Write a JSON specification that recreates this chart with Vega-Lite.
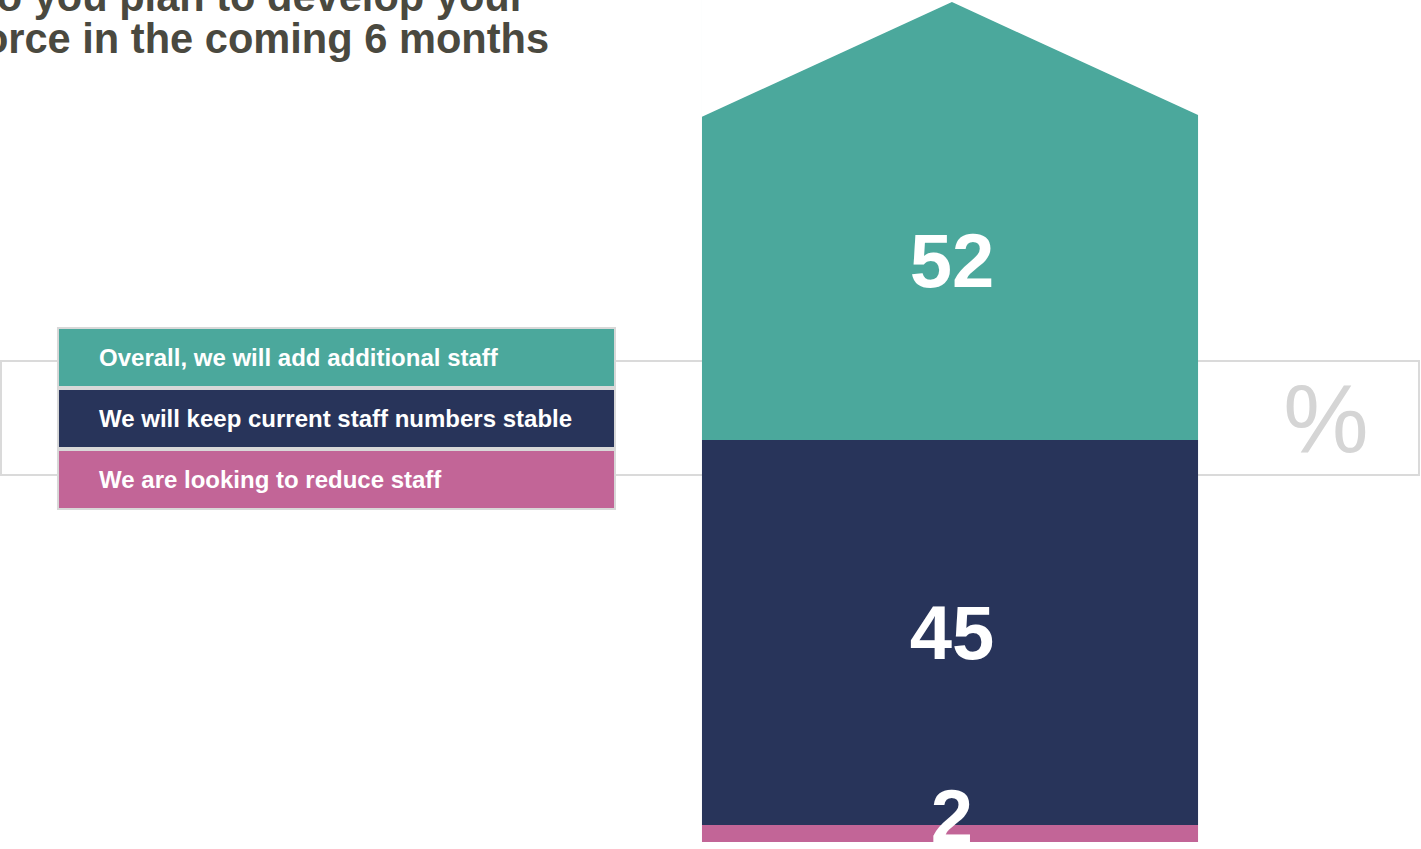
{
  "$schema": "https://vega.github.io/schema/vega-lite/v6.json",
  "width": 1421,
  "height": 842,
  "autosize": {"type": "none"},
  "padding": 0,
  "background": "white",
  "config": {"view": {"stroke": null}},
  "datasets": {
    "plans": [
      {"category": "Overall, we will add additional staff", "value": 52, "order": 3},
      {"category": "We will keep current staff numbers stable", "value": 45, "order": 2},
      {"category": "We are looking to reduce staff", "value": 2, "order": 1}
    ]
  },
  "resolve": {"scale": {"y": "independent"}},
  "layer": [
    {
      "data": {"name": "plans"},
      "transform": [
        {"stack": "value", "groupby": [], "sort": [{"field": "order", "order": "ascending"}], "as": ["v0", "v1"]},
        {"calculate": "(datum.v0 + datum.v1) / 2", "as": "mid"}
      ],
      "layer": [
        {
          "transform": [{"filter": "datum.order == 3"}],
          "mark": {"type": "rect", "fill": "white", "fillOpacity": 0, "stroke": "#dadada", "strokeWidth": 2},
          "encoding": {
            "x": {"datum": 0.07, "type": "quantitative", "scale": {"domain": [0, 100], "nice": false, "zero": false}, "axis": null},
            "x2": {"datum": 99.86},
            "y": {"datum": 56.24, "type": "quantitative", "scale": {"domain": [0, 98.45], "nice": false, "zero": false}, "axis": null},
            "y2": {"datum": 42.91}
          }
        },
        {
          "mark": {"type": "rect"},
          "encoding": {
            "x": {"datum": 49.4, "type": "quantitative", "scale": {"domain": [0, 100], "nice": false, "zero": false}, "axis": null},
            "x2": {"datum": 84.31},
            "y": {"field": "v0", "type": "quantitative", "scale": {"domain": [0, 98.45], "nice": false, "zero": false}, "axis": null},
            "y2": {"field": "v1"},
            "color": {
              "field": "category",
              "type": "nominal",
              "scale": {
                "domain": ["Overall, we will add additional staff", "We will keep current staff numbers stable", "We are looking to reduce staff"],
                "range": ["#4BA89C", "#28345A", "#C26597"]
              },
              "legend": null
            }
          }
        },
        {
          "transform": [{"filter": "datum.order == 3"}],
          "mark": {
            "type": "point",
            "filled": true,
            "fill": "white",
            "opacity": 1,
            "strokeWidth": 0,
            "shape": "M-1.01,0.004L-1.01,-0.62L1.01,-0.62L1.01,0.004L0,-0.4597Z",
            "size": 246016
          },
          "encoding": {
            "x": {"datum": 66.99, "type": "quantitative", "scale": {"domain": [0, 100], "nice": false, "zero": false}, "axis": null},
            "y": {"datum": 84.88, "type": "quantitative", "scale": {"domain": [0, 98.45], "nice": false, "zero": false}, "axis": null}
          }
        },
        {
          "transform": [{"filter": "datum.order == 3"}],
          "mark": {"type": "text", "align": "center", "baseline": "alphabetic", "dy": 69.4, "font": "Liberation Sans", "fontWeight": "bold", "fontSize": 76, "fill": "white"},
          "encoding": {
            "x": {"datum": 66.99, "type": "quantitative", "scale": {"domain": [0, 100], "nice": false, "zero": false}, "axis": null},
            "y": {"field": "mid", "type": "quantitative", "scale": {"domain": [0, 98.45], "nice": false, "zero": false}, "axis": null},
            "text": {"field": "value", "type": "quantitative"}
          }
        },
        {
          "transform": [{"filter": "datum.order == 2"}],
          "mark": {"type": "text", "align": "center", "baseline": "alphabetic", "dy": 26.5, "font": "Liberation Sans", "fontWeight": "bold", "fontSize": 76, "fill": "white"},
          "encoding": {
            "x": {"datum": 66.99, "type": "quantitative", "scale": {"domain": [0, 100], "nice": false, "zero": false}, "axis": null},
            "y": {"field": "mid", "type": "quantitative", "scale": {"domain": [0, 98.45], "nice": false, "zero": false}, "axis": null},
            "text": {"field": "value", "type": "quantitative"}
          }
        },
        {
          "transform": [{"filter": "datum.order == 1"}],
          "mark": {"type": "text", "align": "center", "baseline": "alphabetic", "dy": 9.6, "font": "Liberation Sans", "fontWeight": "bold", "fontSize": 76, "fill": "white"},
          "encoding": {
            "x": {"datum": 66.99, "type": "quantitative", "scale": {"domain": [0, 100], "nice": false, "zero": false}, "axis": null},
            "y": {"field": "mid", "type": "quantitative", "scale": {"domain": [0, 98.45], "nice": false, "zero": false}, "axis": null},
            "text": {"field": "value", "type": "quantitative"}
          }
        },
        {
          "transform": [{"filter": "datum.order == 3"}],
          "mark": {"type": "text", "align": "center", "baseline": "alphabetic", "font": "Liberation Sans", "fontSize": 96, "fill": "#d5d5d5", "text": "%"},
          "encoding": {
            "x": {"datum": 93.31, "type": "quantitative", "scale": {"domain": [0, 100], "nice": false, "zero": false}, "axis": null},
            "y": {"datum": 45.6, "type": "quantitative", "scale": {"domain": [0, 98.45], "nice": false, "zero": false}, "axis": null}
          }
        },
        {
          "transform": [{"filter": "datum.order == 3"}],
          "mark": {
            "type": "text",
            "align": "left",
            "baseline": "alphabetic",
            "font": "Liberation Sans",
            "fontWeight": "bold",
            "fontSize": 41.6,
            "lineHeight": 42,
            "fill": "#4A493F",
            "text": ["How do you plan to develop your", "workforce in the coming 6 months"]
          },
          "encoding": {
            "x": {"datum": -9.01, "type": "quantitative", "scale": {"domain": [0, 100], "nice": false, "zero": false}, "axis": null},
            "y": {"datum": 97.16, "type": "quantitative", "scale": {"domain": [0, 98.45], "nice": false, "zero": false}, "axis": null}
          }
        }
      ]
    },
    {
      "data": {"name": "plans"},
      "layer": [
        {
          "mark": {"type": "rect", "stroke": "#d8d8d8", "strokeWidth": 2},
          "encoding": {
            "x": {"datum": 4.08, "type": "quantitative", "scale": {"domain": [0, 100], "nice": false, "zero": false}, "axis": null},
            "x2": {"datum": 43.28},
            "y": {
              "field": "category",
              "type": "nominal",
              "scale": {
                "domain": ["Overall, we will add additional staff", "We will keep current staff numbers stable", "We are looking to reduce staff"],
                "range": [328, 509],
                "paddingInner": 0.034,
                "paddingOuter": 0
              },
              "axis": null
            },
            "color": {"field": "category", "type": "nominal", "legend": null}
          }
        },
        {
          "mark": {"type": "text", "align": "left", "baseline": "middle", "dy": 1.5, "font": "Liberation Sans", "fontWeight": "bold", "fontSize": 24, "fill": "white"},
          "encoding": {
            "x": {"datum": 6.97, "type": "quantitative", "scale": {"domain": [0, 100], "nice": false, "zero": false}, "axis": null},
            "y": {
              "field": "category",
              "type": "nominal",
              "scale": {
                "domain": ["Overall, we will add additional staff", "We will keep current staff numbers stable", "We are looking to reduce staff"],
                "range": [328, 509],
                "paddingInner": 0.034,
                "paddingOuter": 0
              },
              "axis": null
            },
            "text": {"field": "category", "type": "nominal"}
          }
        }
      ]
    }
  ]
}
